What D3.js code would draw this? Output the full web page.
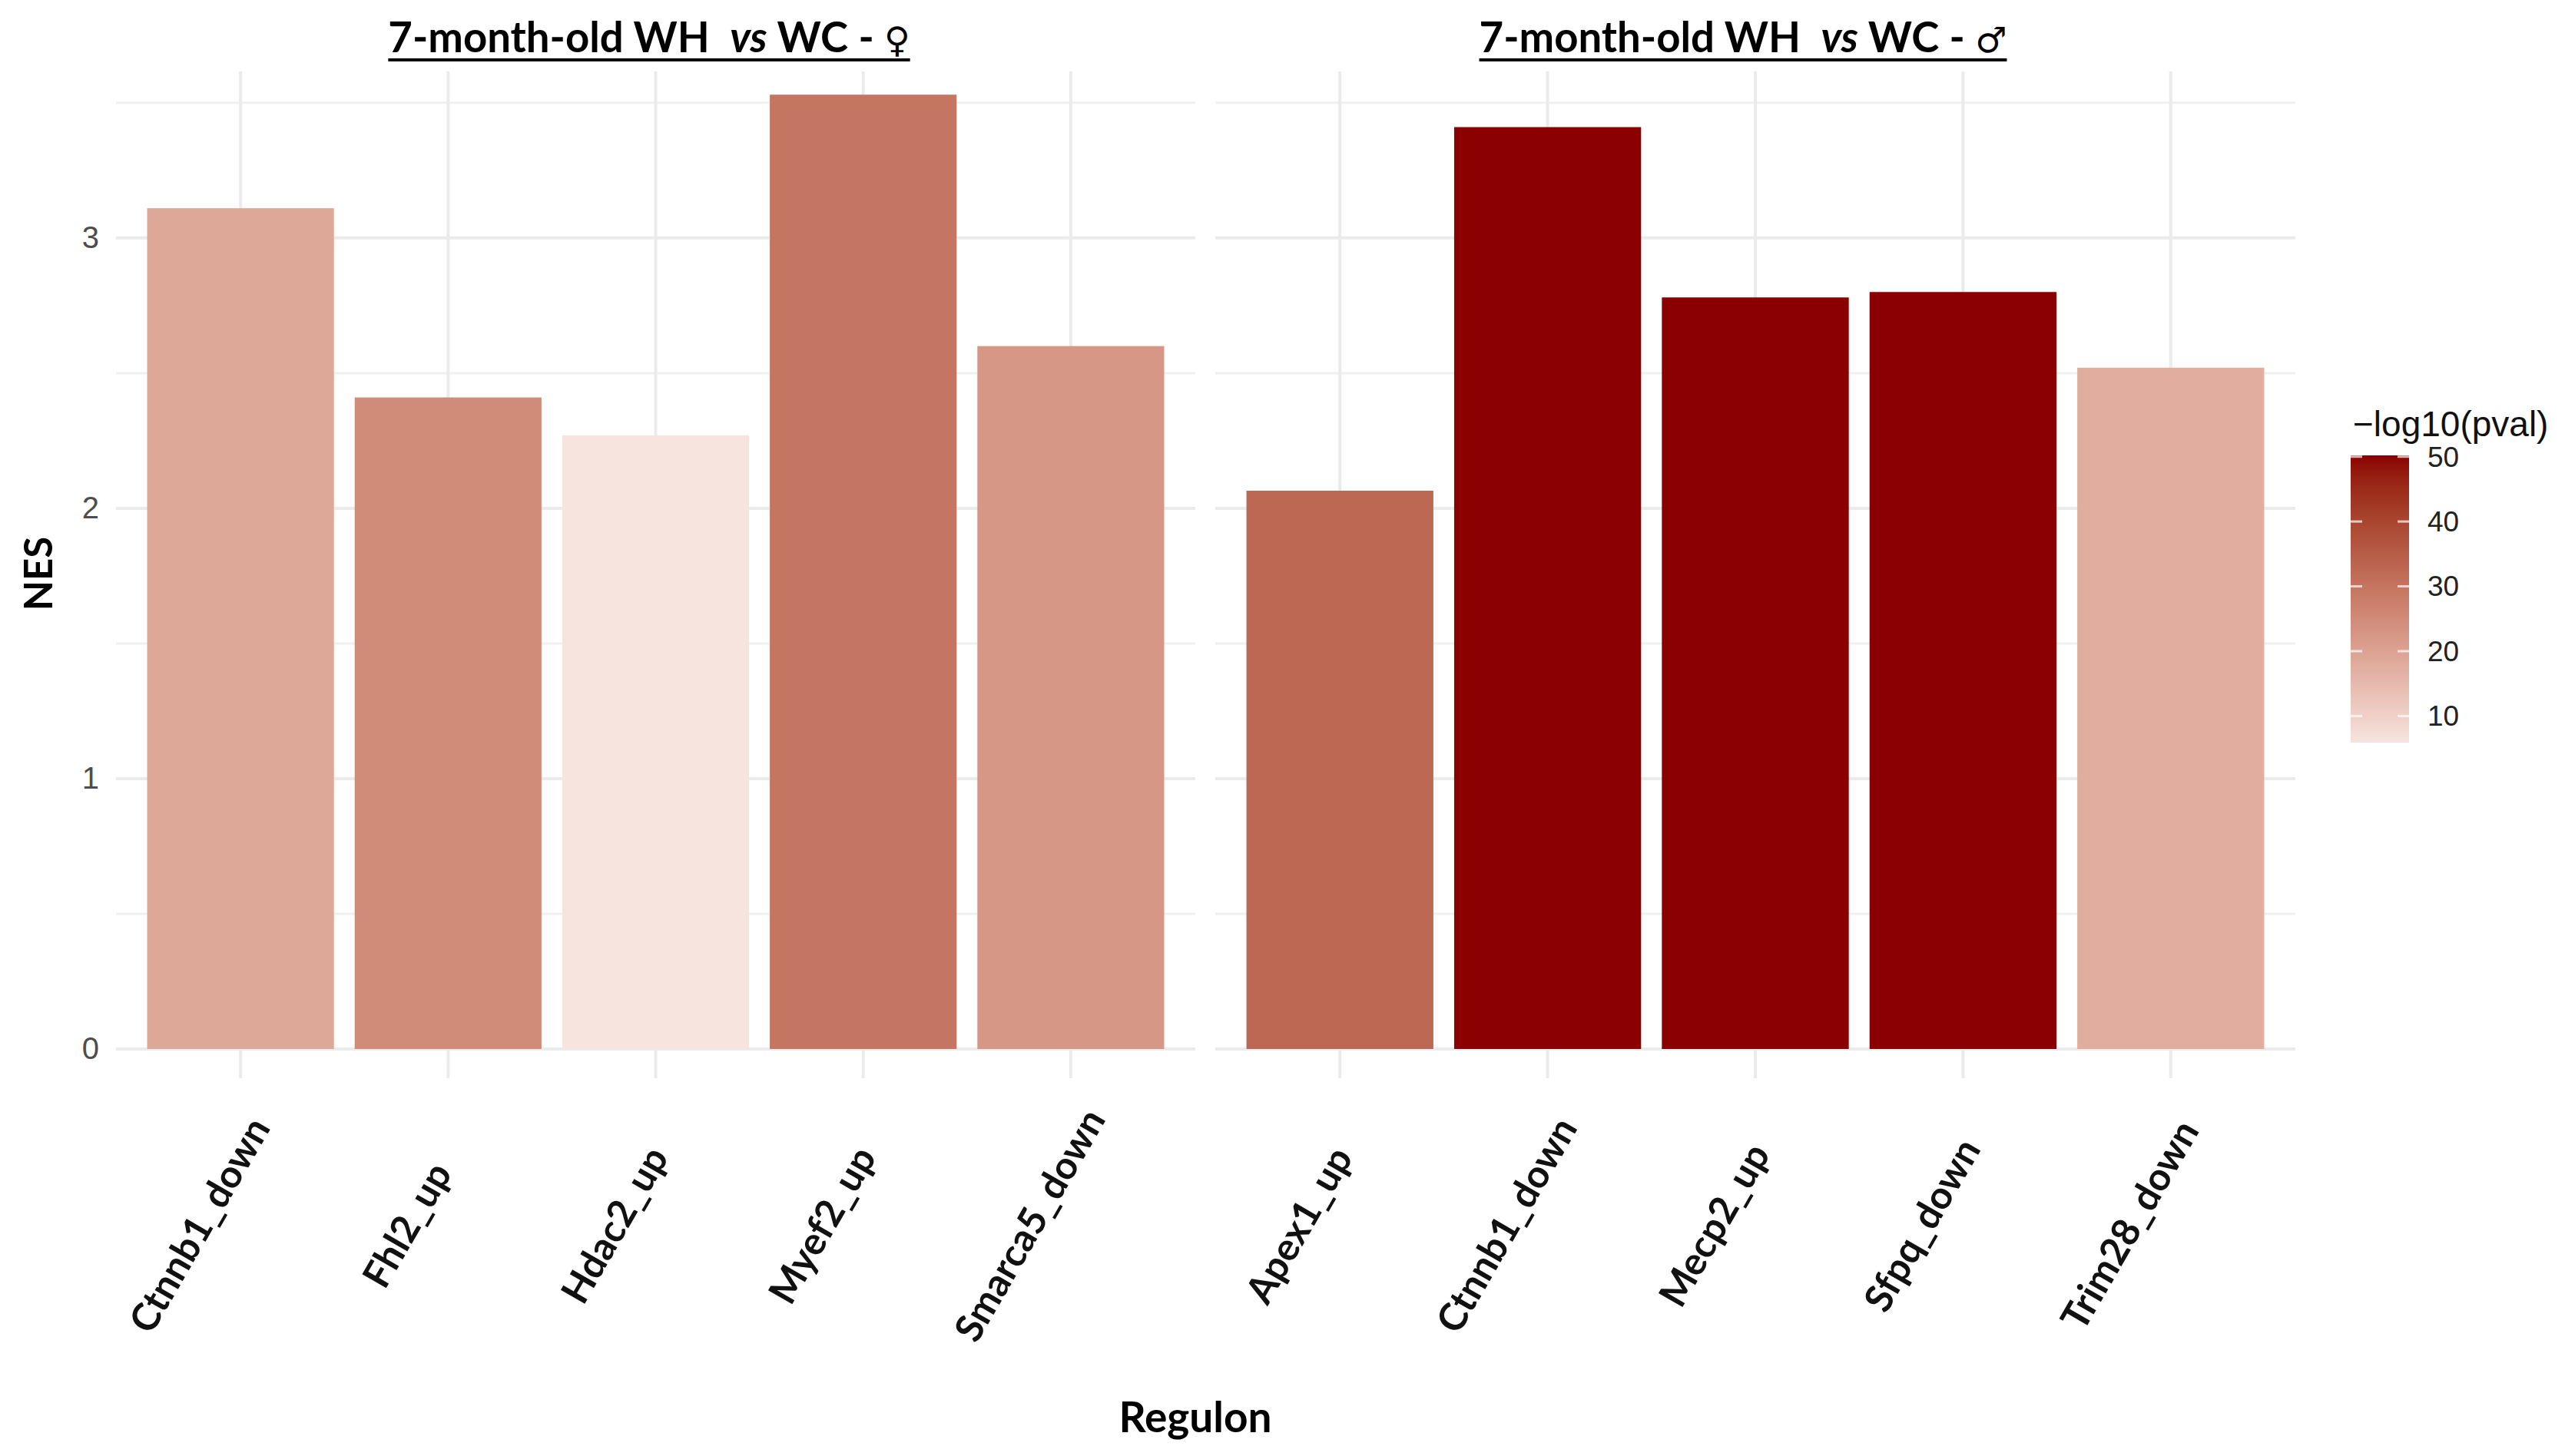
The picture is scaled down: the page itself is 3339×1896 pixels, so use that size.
<!DOCTYPE html>
<html>
<head>
<meta charset="utf-8">
<script src="https://cdn.jsdelivr.net/npm/d3@7"></script>
<style>
  body { margin: 0; background: #fff; }
</style>
</head>
<body>
<script>
// values
const femaleRegulons = ['Ctnnb1_down', 'Fhl2_up', 'Hdac2_up', 'Myef2_up', 'Smarca5_down'];
const femaleNES = [3.11, 2.41, 2.27, 3.53, 2.60];
const femalePval = [18.7, 25.0, 5.9, 29.6, 22.4];

const maleRegulons = ['Apex1_up', 'Ctnnb1_down', 'Mecp2_up', 'Sfpq_down', 'Trim28_down'];
const maleNES = [2.065, 3.41, 2.78, 2.80, 2.52];
const malePval = [32.7, 50.2, 50.2, 50.2, 17.6];

const yTicks = [0, 1, 2, 3];
const yMinor = [0.5, 1.5, 2.5, 3.5];
const legendTicks = [10, 20, 30, 40, 50];
const panelSymbols = ['♀', '♂'];

const W = 3339, H = 1896;
const svg = d3.select('body').append('svg')
  .attr('width', W)
  .attr('height', H);

const y = d3.scaleLinear()
  .domain([-0.108, 3.616])
  .range([1404, 93]);

const allPval = femalePval.concat(malePval);
const color = d3.scaleLinear()
  .domain(d3.extent(allPval))
  .range(['#f7e4df', '#8b0000'])
  .interpolate(d3.interpolateLab);

const panels = [
  { regs: femaleRegulons, nes: femaleNES, pval: femalePval, x0: 151, x1: 1556, sym: panelSymbols[0], tx: 845 },
  { regs: maleRegulons, nes: maleNES, pval: malePval, x0: 1582, x1: 2988, sym: panelSymbols[1], tx: 2269 }
];

panels.forEach(p => {
  const rows = p.regs.map((r, i) => ({ reg: r, nes: p.nes[i], pval: p.pval[i] }));
  const x = d3.scaleBand()
    .domain(p.regs)
    .range([p.x0, p.x1])
    .paddingInner(0.1)
    .paddingOuter(0.15);

  const g = svg.append('g');

  // grid
  g.selectAll('.minor').data(yMinor).enter().append('line')
    .attr('x1', p.x0).attr('x2', p.x1)
    .attr('y1', d => y(d)).attr('y2', d => y(d))
    .attr('stroke', '#f0f0f0').attr('stroke-width', 3);
  g.selectAll('.major').data(yTicks).enter().append('line')
    .attr('x1', p.x0).attr('x2', p.x1)
    .attr('y1', d => y(d)).attr('y2', d => y(d))
    .attr('stroke', '#ebebeb').attr('stroke-width', 4);
  g.selectAll('.vgrid').data(p.regs).enter().append('line')
    .attr('x1', d => x(d) + x.bandwidth() / 2).attr('x2', d => x(d) + x.bandwidth() / 2)
    .attr('y1', y.range()[1]).attr('y2', y.range()[0])
    .attr('stroke', '#ebebeb').attr('stroke-width', 4);

  // bars
  g.selectAll('rect').data(rows).enter().append('rect')
    .attr('x', d => x(d.reg))
    .attr('width', x.bandwidth())
    .attr('y', d => y(d.nes))
    .attr('height', d => y(0) - y(d.nes))
    .attr('fill', d => color(d.pval));

  // x labels, rotated 60 deg
  g.selectAll('.xlab').data(p.regs).enter().append('text')
    .attr('transform', d => `translate(${x(d) + x.bandwidth() / 2 - 52},1596) rotate(-60)`)
    .attr('text-anchor', 'middle')
    .attr('dy', '0.32em')
    .style('font-family', 'Lato, sans-serif')
    .style('font-weight', 700)
    .style('font-size', '50px')
    .attr('fill', '#111')
    .text(d => d);

  // panel title
  const title = svg.append('text')
    .attr('x', p.tx)
    .attr('y', 68)
    .attr('text-anchor', 'middle')
    .style('font-family', 'Lato, sans-serif')
    .style('font-weight', 700)
    .style('font-size', '54.5px')
    .attr('fill', '#000');
  title.append('tspan').text('7-month-old WH\u00a0\u00a0');
  title.append('tspan').style('font-style', 'italic').text('vs');
  title.append('tspan').text(' WC - ');
  title.append('tspan').style('font-family', '"DejaVu Sans", sans-serif').style('font-weight', 400).style('font-size', '46px').text(p.sym);
  const bb = title.node().getBBox();
  svg.append('line')
    .attr('x1', bb.x).attr('x2', bb.x + bb.width)
    .attr('y1', 78).attr('y2', 78)
    .attr('stroke', '#000').attr('stroke-width', 4);
});

// y axis
const yAxis = svg.append('g')
  .attr('transform', 'translate(151,0)')
  .call(d3.axisLeft(y).tickValues(yTicks).tickSize(0).tickPadding(22).tickFormat(d3.format('d')));
yAxis.select('.domain').remove();
yAxis.selectAll('text')
  .style('font-family', '"Liberation Sans", Arial, sans-serif')
  .style('font-size', '40px')
  .attr('fill', '#4d4d4d');

// axis titles
svg.append('text')
  .attr('transform', 'translate(68,747) rotate(-90)')
  .attr('text-anchor', 'middle')
  .style('font-family', 'Lato, sans-serif')
  .style('font-weight', 700)
  .style('font-size', '51px')
  .text('NES');

svg.append('text')
  .attr('x', 1556)
  .attr('y', 1865)
  .attr('text-anchor', 'middle')
  .style('font-family', 'Lato, sans-serif')
  .style('font-weight', 700)
  .style('font-size', '55px')
  .text('Regulon');

// colour bar legend
const lx = 3060, lw = 76;
const ly = d3.scaleLinear().domain(color.domain()).range([967, 593]);

const grad = svg.append('defs').append('linearGradient')
  .attr('id', 'pgrad')
  .attr('x1', 0).attr('x2', 0).attr('y1', 1).attr('y2', 0);
d3.range(0, 1.0001, 0.05).forEach(t => {
  const v = color.domain()[0] + t * (color.domain()[1] - color.domain()[0]);
  grad.append('stop').attr('offset', t).attr('stop-color', color(v));
});

svg.append('rect')
  .attr('x', lx).attr('y', ly.range()[1])
  .attr('width', lw).attr('height', ly.range()[0] - ly.range()[1])
  .attr('fill', 'url(#pgrad)');

const lt = svg.append('g');
lt.selectAll('.tl').data(legendTicks).enter().append('line')
  .attr('x1', lx).attr('x2', lx + 15)
  .attr('y1', d => ly(d)).attr('y2', d => ly(d))
  .attr('stroke', '#fff').attr('stroke-opacity', 0.7).attr('stroke-width', 3);
lt.selectAll('.tr').data(legendTicks).enter().append('line')
  .attr('x1', lx + lw - 15).attr('x2', lx + lw)
  .attr('y1', d => ly(d)).attr('y2', d => ly(d))
  .attr('stroke', '#fff').attr('stroke-opacity', 0.7).attr('stroke-width', 3);
lt.selectAll('text').data(legendTicks).enter().append('text')
  .attr('x', lx + 100)
  .attr('y', d => ly(d))
  .attr('dy', '0.35em')
  .style('font-family', '"Liberation Sans", Arial, sans-serif')
  .style('font-size', '37px')
  .attr('fill', '#222')
  .text(d => d);

svg.append('text')
  .attr('x', 3063)
  .attr('y', 568)
  .style('font-family', '"Liberation Sans", Arial, sans-serif')
  .style('font-size', '46px')
  .attr('fill', '#111')
  .text('\u2212log10(pval)');
</script>
</body>
</html>
